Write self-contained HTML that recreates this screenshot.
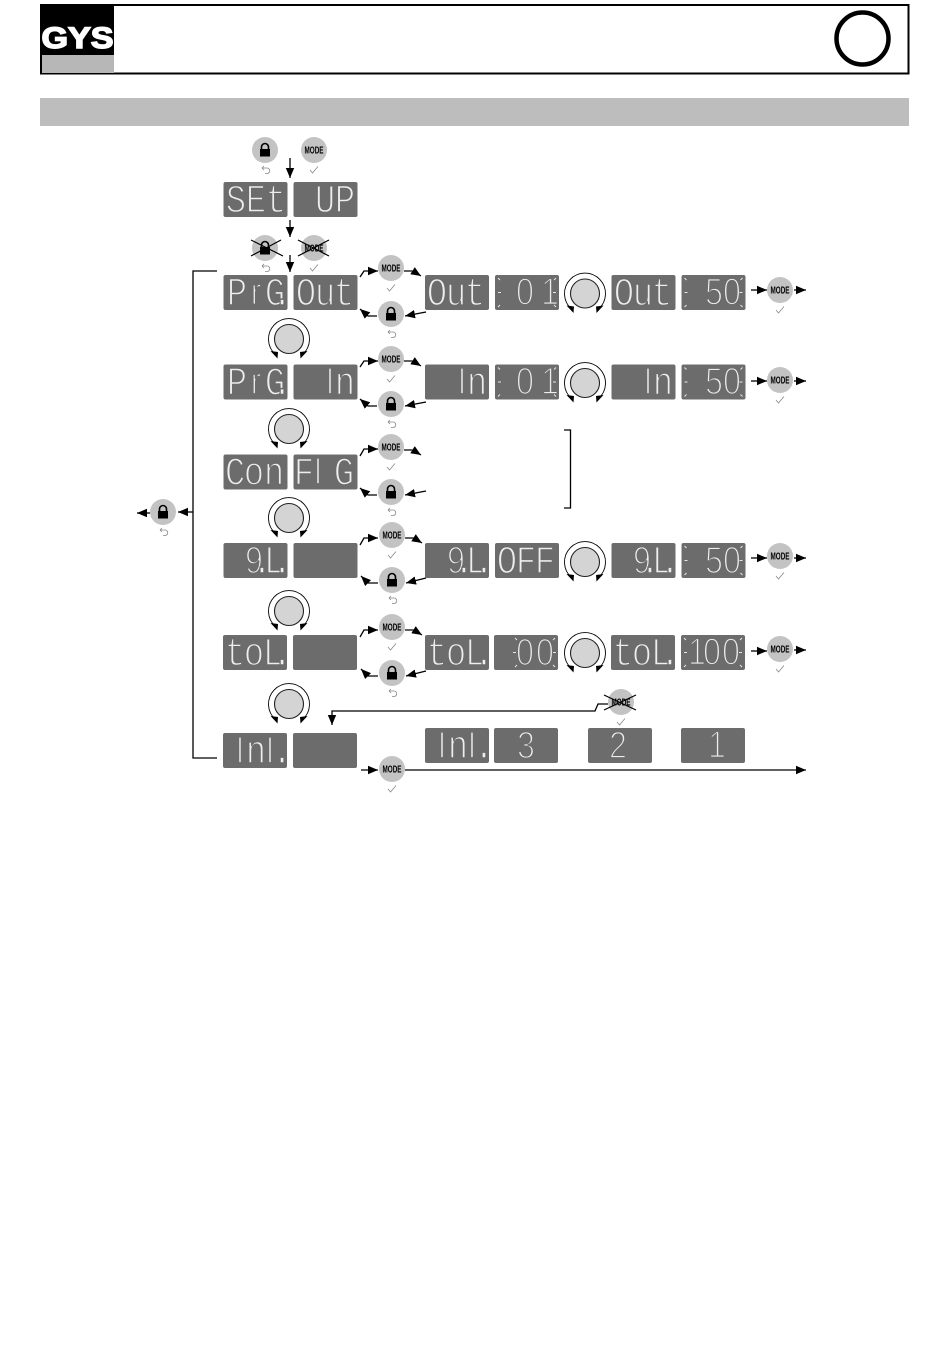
<!DOCTYPE html>
<html><head><meta charset="utf-8"><title>GYS setup menu</title>
<style>
html,body{margin:0;padding:0;background:#fff}
svg{display:block}
.p{fill:#6c6c6c}
.l{font:40px "Liberation Mono",monospace;fill:#eeeeee;stroke:#6c6c6c;stroke-width:1.5;text-anchor:middle}
.s{font:38px "Liberation Sans",sans-serif;fill:#eeeeee;stroke:#6c6c6c;stroke-width:1.8;text-anchor:middle}
.m{font:bold 10.5px "Liberation Sans",sans-serif;fill:#000;text-anchor:middle}
.a{fill:none;stroke:#000;stroke-width:1.3;marker-end:url(#h)}
.n{fill:none;stroke:#000;stroke-width:1.3}
.x{stroke:#000;stroke-width:1.2}
</style></head><body>
<svg xmlns="http://www.w3.org/2000/svg" width="950" height="1360" viewBox="0 0 950 1360">
<defs>
<marker id="h" markerUnits="userSpaceOnUse" markerWidth="11" markerHeight="10" refX="10" refY="5" orient="auto"><path d="M0 .8L10 5 0 9.2z" fill="#000"/></marker>
<g id="bm"><circle r="13" fill="#c3c3c3"/><path d="M-4 20L-1.500 23 4 16.500" fill="none" stroke="#888" stroke-width=".8"/></g>
<g id="bl"><circle r="13" fill="#c3c3c3"/><path d="M-3.500 -.5V-3A3.500 3.500 0 0 1 3.500 -3V-.5" fill="none" stroke="#000" stroke-width="1.600"/><rect x="-5" y="-1" width="10" height="7.500" fill="#000"/><path d="M-3 18H2A2.500 2.500 0 0 1 2 23.500H0M-3 18L-1 16M-3 18L-1 20" fill="none" stroke="#888" stroke-width=".8"/></g>
<g id="kn"><circle r="14.500" fill="#d4d4d4" stroke="#222" stroke-width="1.100"/><path d="M-13.500 15.500A20.500 20.500 0 1 1 13.500 15.500" fill="none" stroke="#000" stroke-width=".9"/><path d="M-18.500 12L-11 13 -11.500 19.500z M18.500 12L11 13 11.500 19.500z" fill="#000"/></g>
<g id="t" stroke="#e8e8e8" stroke-width="1" fill="none"><path d="M3 3L5 5M61 3L59 5M3 32L5 30M61 32L59 30M3 17.500H6M58 17.500H61"/></g>
</defs>

<!-- header -->
<rect x="41" y="5" width="867.500" height="68.500" fill="#fff" stroke="#000" stroke-width="2"/>
<rect x="41" y="5" width="73" height="50" fill="#000"/>
<rect x="42" y="55" width="72" height="18" fill="#b7b7b7"/>
<text x="77.500" y="48" text-anchor="middle" textLength="72" lengthAdjust="spacingAndGlyphs" style="font:900 30px 'Liberation Sans',sans-serif;fill:#fff;stroke:#fff;stroke-width:1.500">GYS</text>
<circle cx="862.500" cy="38.500" r="26" fill="#fff" stroke="#000" stroke-width="4.500"/>
<rect x="40" y="98" width="869" height="28" fill="#bdbdbd"/>

<!-- panels -->
<g class="p">
<rect x="223.500" y="182" width="64" height="35" rx="2"/><rect x="293.500" y="182" width="64" height="35" rx="2"/>
<rect x="223.500" y="275" width="64" height="35" rx="2"/><rect x="293.500" y="275" width="64" height="35" rx="2"/>
<rect x="425" y="275" width="64" height="35" rx="2"/><rect x="495" y="275" width="64" height="35" rx="2"/><rect x="611.500" y="275" width="64" height="35" rx="2"/><rect x="681.500" y="275" width="64" height="35" rx="2"/>
<rect x="223.500" y="364.500" width="64" height="35" rx="2"/><rect x="293.500" y="364.500" width="64" height="35" rx="2"/>
<rect x="425" y="364.500" width="64" height="35" rx="2"/><rect x="495" y="364.500" width="64" height="35" rx="2"/><rect x="611.500" y="364.500" width="64" height="35" rx="2"/><rect x="681.500" y="364.500" width="64" height="35" rx="2"/>
<rect x="223.500" y="454.500" width="64" height="35" rx="2"/><rect x="293.500" y="454.500" width="64" height="35" rx="2"/>
<rect x="223.500" y="543" width="64" height="35" rx="2"/><rect x="293.500" y="543" width="64" height="35" rx="2"/>
<rect x="425" y="543" width="64" height="35" rx="2"/><rect x="495" y="543" width="64" height="35" rx="2"/><rect x="611.500" y="543" width="64" height="35" rx="2"/><rect x="681.500" y="543" width="64" height="35" rx="2"/>
<rect x="223" y="635" width="64" height="35" rx="2"/><rect x="293" y="635" width="64" height="35" rx="2"/>
<rect x="425" y="635" width="64" height="35" rx="2"/><rect x="494" y="635" width="64" height="35" rx="2"/><rect x="611" y="635" width="64" height="35" rx="2"/><rect x="681" y="635" width="64" height="35" rx="2"/>
<rect x="223" y="733" width="64" height="35" rx="2"/><rect x="293" y="733" width="64" height="35" rx="2"/>
<rect x="425" y="728" width="64" height="35" rx="2"/><rect x="494" y="728" width="64" height="35" rx="2"/><rect x="588" y="728" width="64" height="35" rx="2"/><rect x="681" y="728" width="64" height="35" rx="2"/>
</g>

<!-- LCD text, condensed horizontally -->
<g transform="scale(.85,1)">
<text class="l" y="212" x="277.600 301.200 324.700">SEt</text>
<text class="l" y="212" x="382.400 405.900">UP</text>

<text class="l" y="305" x="278.800">P</text><text class="s" y="304.500" x="301.200">r</text><text class="l" y="305" x="323.500 331.800">G.</text>
<text class="l" y="305" x="360 382.400 404.700">Out</text>
<text class="l" y="305" x="514.100 536.500 558.800">Out</text>
<text class="s" y="304.500" x="617.600">0</text><text class="s" y="304.500" x="647.100">1</text>
<text class="l" y="305" x="734.100 756.500 778.800">Out</text>
<text class="s" y="304.500" x="840 861.200">50</text>

<text class="l" y="394.500" x="278.800">P</text><text class="s" y="394" x="301.200">r</text><text class="l" y="394.500" x="323.500 331.800">G.</text>
<text class="s" y="394" x="388.200">I</text><text class="l" y="394.500" x="405.900">n</text>
<text class="s" y="394" x="543.500">I</text><text class="l" y="394.500" x="561.200">n</text>
<text class="s" y="394" x="617.600">0</text><text class="s" y="394" x="647.100">1</text>
<text class="s" y="394" x="762.400">I</text><text class="l" y="394.500" x="780">n</text>
<text class="s" y="394" x="840 861.200">50</text>

<text class="l" y="484.500" x="276.500 298.800 322.400">Con</text>
<text class="l" y="484.500" x="357.600">F</text><text class="s" y="484" x="374.100">I</text><text class="l" y="484.500" x="404.700">G</text>

<text class="s" y="573" x="298.800">9</text><text class="l" y="573" x="308.200 322.400 331.800">.L.</text>
<text class="s" y="573" x="536.500">9</text><text class="l" y="573" x="545.900 560 569.400">.L.</text>
<text class="l" y="573" x="596.500 618.800 641.200">OFF</text>
<text class="s" y="573" x="755.300">9</text><text class="l" y="573" x="764.700 778.800 788.200">.L.</text>
<text class="s" y="573" x="840 861.200">50</text>

<text class="l" y="665" x="276.500 298.800 321.200 331.800">toL.</text>
<text class="l" y="665" x="514.100 536.500 558.800 569.400">toL.</text>
<text class="s" y="665" x="617.600 641.200">00</text>
<text class="l" y="665" x="732.900 755.300 777.600 788.200">toL.</text>
<text class="s" y="664.500" x="820 837.600 860">100</text>

<text class="s" y="763" x="282.400">I</text><text class="l" y="763" x="301.200">n</text><text class="s" y="763" x="317.600">I</text><text class="l" y="763" x="331.800">.</text>
<text class="s" y="758" x="520">I</text><text class="l" y="758" x="538.800">n</text><text class="s" y="758" x="555.300">I</text><text class="l" y="758" x="569.400">.</text>
<text class="s" y="758" x="618.800">3</text>
<text class="s" y="758" x="727.100">2</text>
<text class="s" y="757.500" x="843.500">1</text>
</g>

<!-- blink ticks -->
<use href="#t" x="495" y="275"/><use href="#t" x="681.500" y="275"/>
<use href="#t" x="495" y="364.500"/><use href="#t" x="681.500" y="364.500"/>
<use href="#t" x="681.500" y="543"/>
<g stroke="#e8e8e8" stroke-width="1" fill="none"><path d="M515 638L517 640M515 667L517 665M513 652.500H516M555 638L553 640M555 667L553 665M553 652.500H556"/></g>
<use href="#t" x="681" y="635"/>

<!-- buttons -->
<use href="#bl" x="265" y="150"/>
<use href="#bm" x="314" y="150"/><text class="m" x="314" y="153.500" textLength="19" lengthAdjust="spacingAndGlyphs">MODE</text>
<use href="#bl" x="265" y="248"/>
<use href="#bm" x="314" y="248"/><text class="m" x="314" y="251.500" textLength="19" lengthAdjust="spacingAndGlyphs">MODE</text>
<path class="x" d="M251 240L283 256M281 240L251 256M298 240L329 256M329 240L298 256"/>

<use href="#bm" x="391" y="268"/><text class="m" x="391" y="271.500" textLength="19" lengthAdjust="spacingAndGlyphs">MODE</text>
<use href="#bl" x="391" y="314"/>
<use href="#bm" x="780" y="290"/><text class="m" x="780" y="293.500" textLength="19" lengthAdjust="spacingAndGlyphs">MODE</text>

<use href="#bm" x="391" y="359"/><text class="m" x="391" y="362.500" textLength="19" lengthAdjust="spacingAndGlyphs">MODE</text>
<use href="#bl" x="391" y="404"/>
<use href="#bm" x="780" y="380"/><text class="m" x="780" y="383.500" textLength="19" lengthAdjust="spacingAndGlyphs">MODE</text>

<use href="#bm" x="391" y="447"/><text class="m" x="391" y="450.500" textLength="19" lengthAdjust="spacingAndGlyphs">MODE</text>
<use href="#bl" x="391" y="492"/>

<use href="#bm" x="392" y="535"/><text class="m" x="392" y="538.500" textLength="19" lengthAdjust="spacingAndGlyphs">MODE</text>
<use href="#bl" x="392" y="580"/>
<use href="#bm" x="780" y="556"/><text class="m" x="780" y="559.500" textLength="19" lengthAdjust="spacingAndGlyphs">MODE</text>

<use href="#bm" x="392" y="627"/><text class="m" x="392" y="630.500" textLength="19" lengthAdjust="spacingAndGlyphs">MODE</text>
<use href="#bl" x="392" y="673"/>
<use href="#bm" x="780" y="649"/><text class="m" x="780" y="652.500" textLength="19" lengthAdjust="spacingAndGlyphs">MODE</text>

<use href="#bm" x="392" y="769"/><text class="m" x="392" y="772.500" textLength="19" lengthAdjust="spacingAndGlyphs">MODE</text>
<use href="#bm" x="621" y="702"/><text class="m" x="621" y="705.500" textLength="19" lengthAdjust="spacingAndGlyphs">MODE</text>
<path class="x" d="M604 695L636 710M636 695L604 710"/>
<use href="#bl" x="163" y="512"/>

<!-- knobs -->
<use href="#kn" x="289" y="339"/><use href="#kn" x="289" y="429"/><use href="#kn" x="289" y="518"/><use href="#kn" x="289" y="611"/><use href="#kn" x="289" y="704"/>
<use href="#kn" x="585" y="293.500"/><use href="#kn" x="585" y="383"/><use href="#kn" x="585" y="562"/><use href="#kn" x="585" y="653"/>

<!-- connectors -->
<path class="a" d="M290 158V178"/><path class="a" d="M290 220V237"/><path class="a" d="M290 255V272"/>
<path class="n" d="M217 271H193V758H217"/>
<path class="n" d="M564 430H570.500V508H564"/>
<path class="a" d="M193 512H178"/><path class="a" d="M150 513H137"/>

<path class="a" d="M360 277L364 271H378"/><path class="a" d="M404 271H413L421 276"/><path class="a" d="M426 312L405 316"/><path class="a" d="M377 316H368L360 309"/>
<path class="a" d="M360 367L364 361H378"/><path class="a" d="M404 361H413L421 366"/><path class="a" d="M426 402L405 406"/><path class="a" d="M377 406H368L360 399"/>
<path class="a" d="M360 456L364 449H378"/><path class="a" d="M404 450H413L421 455"/><path class="a" d="M426 491L405 495"/><path class="a" d="M377 495H368L360 488"/>
<path class="a" d="M360 545L364 538H378"/><path class="a" d="M405 538H414L422 543"/><path class="a" d="M426 578L406 583"/><path class="a" d="M378 583H368L361 576"/>
<path class="a" d="M360 637L364 630H378"/><path class="a" d="M405 630H414L422 635"/><path class="a" d="M426 671L406 676"/><path class="a" d="M378 676H368L361 669"/>

<path class="a" d="M751 290H767"/><path class="a" d="M794 290H806"/>
<path class="a" d="M751 381H767"/><path class="a" d="M794 381H806"/>
<path class="a" d="M751 558H767"/><path class="a" d="M794 558H806"/>
<path class="a" d="M751 651H767"/><path class="a" d="M794 650H806"/>

<path class="a" d="M608 704H598L595 711H332V725"/>
<path class="a" d="M361 770H378"/>
<path class="a" d="M405 770H806"/>
</svg>
</body></html>
